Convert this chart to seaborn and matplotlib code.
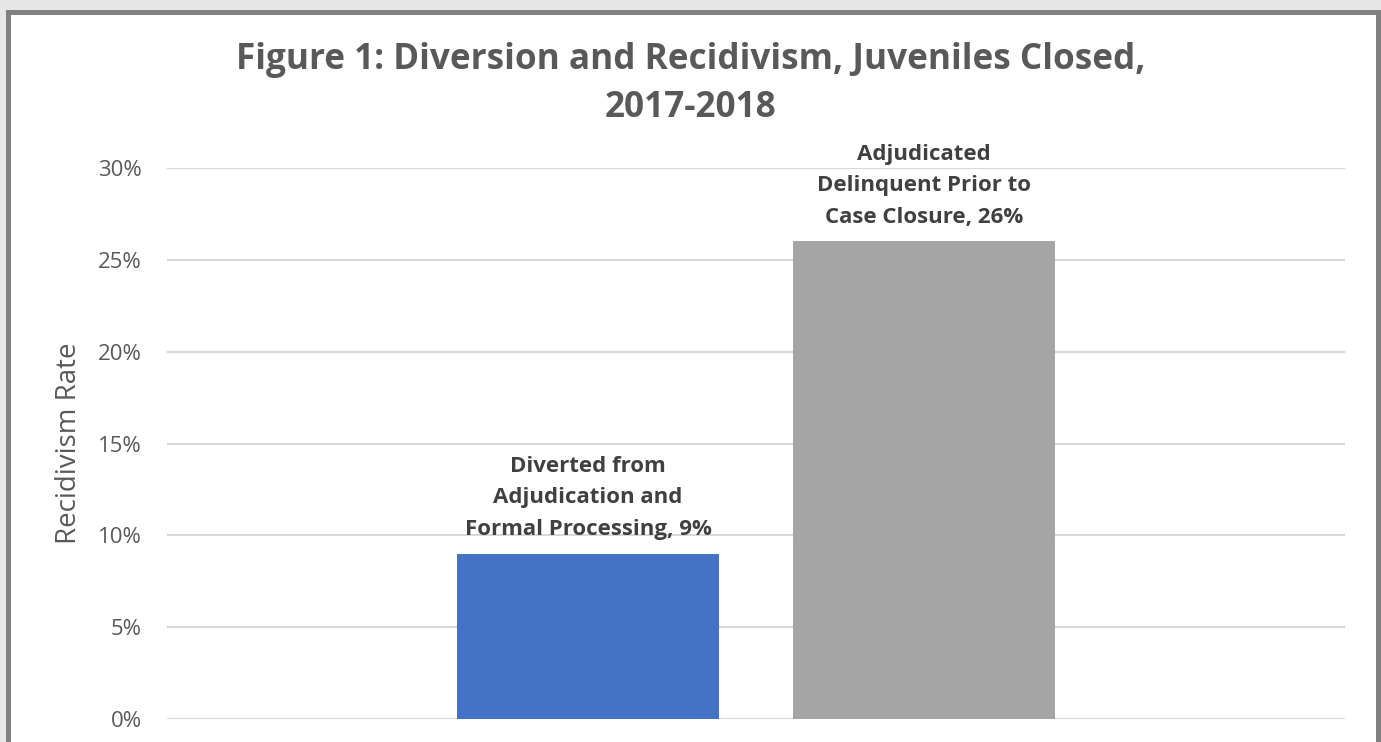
import matplotlib
matplotlib.use("Agg")
import matplotlib.pyplot as plt
import seaborn as sns
import pandas as pd
from matplotlib.patches import Rectangle
from matplotlib.ticker import FuncFormatter

categories = ["Diverted from\nAdjudication and\nFormal Processing",
              "Adjudicated\nDelinquent Prior to\nCase Closure"]
values = [0.09, 0.26]
colors = ["#4472C4", "#A5A5A5"]
yticks = [0, 0.05, 0.10, 0.15, 0.20, 0.25, 0.30]
title = "Figure 1: Diversion and Recidivism, Juveniles Closed,\n2017-2018"
ylabel = "Recidivism Rate"

sns.set_theme(style="white")
plt.rcParams['font.family'] = ['Open Sans', 'DejaVu Sans']

fig = plt.figure(figsize=(13.81, 7.42), dpi=100)
fig.patch.set_facecolor("#E7E7E7")
W, H = 1381, 742
# white chart panel with dark grey border
panel = Rectangle((7.5 / W, -0.05), (1378 - 7.5) / W, (742 - 11.5) / H + 0.05,
                  transform=fig.transFigure, facecolor="white",
                  edgecolor="#808080", linewidth=3.6, zorder=-5)
fig.patches.append(panel)

ax = fig.add_axes([167 / W, 23 / H, (1345 - 167) / W, (719 - 168) / H])
ax.set_zorder(2)
ax.set_facecolor("none")
ax.patch.set_alpha(0)

df = pd.DataFrame({"cat": categories, "val": values})
sns.barplot(data=df, x="cat", y="val", hue="cat", palette=colors, legend=False,
            width=0.78, ax=ax, saturation=1, zorder=3, linewidth=0)

ax.set_ylim(0, 0.30)
ax.set_xlim(-1.253, 2.253)
ax.set_yticks(yticks)
ax.yaxis.set_major_formatter(FuncFormatter(lambda v, p: f"{v*100:.0f}%"))
ax.grid(axis="y", color="#D9D9D9", linewidth=1.5, zorder=0)
ax.set_axisbelow(True)
ax.tick_params(axis="y", labelsize=16, colors="#595959", length=0, pad=18)
ax.set_xticks([])
ax.set_xlabel("")
for s in ax.spines.values():
    s.set_visible(False)
ax.set_ylabel(ylabel, fontsize=20, color="#595959")
ax.yaxis.set_label_coords(-0.071, 0.5)

for i, (c, v) in enumerate(zip(categories, values)):
    lines = c.split("\n")
    lines[-1] = lines[-1] + f", {v*100:.0f}%"
    ax.annotate("\n".join(lines), xy=(i, v), xytext=(0, 10), textcoords="offset points",
                ha="center", va="bottom", fontsize=16, fontweight="bold",
                color="#404040", linespacing=1.65, zorder=5)

fig.text(0.5, (742 - 84) / H, title, ha="center", va="center", fontsize=25.3,
         fontweight="bold", color="#595959", linespacing=1.45)

fig.savefig("out.png", dpi=100, facecolor=fig.get_facecolor())
